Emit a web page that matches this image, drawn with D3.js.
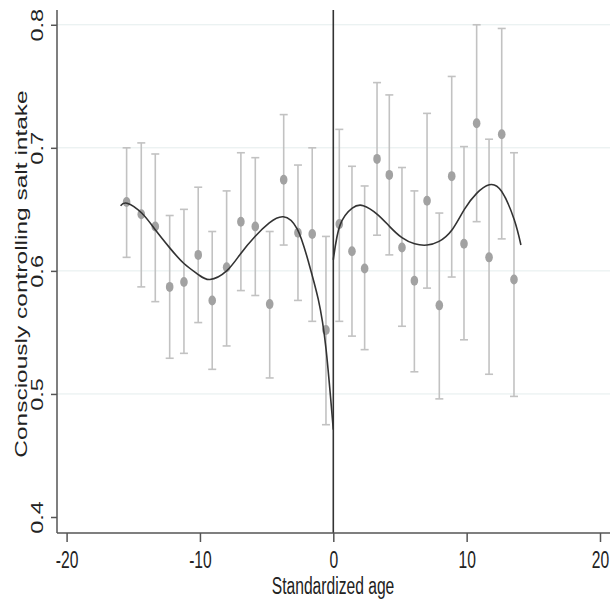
<!DOCTYPE html>
<html>
<head>
<meta charset="utf-8">
<script src="https://cdn.jsdelivr.net/npm/d3@7"></script>
<style>
  body { margin: 0; background: #fff; }
  text { font-family: "Liberation Sans", Arial, Helvetica, sans-serif; fill: #222; }
</style>
</head>
<body>
<svg width="615" height="602"></svg>
<script>
// binned means with 95% CI, left of cutoff
var leftAge = [-15.5, -14.4, -13.35, -12.27, -11.2, -10.13, -9.08, -8.0, -6.93, -5.85, -4.77, -3.72, -2.65, -1.58, -0.55]
var leftMean = [0.656, 0.646, 0.636, 0.587, 0.591, 0.613, 0.576, 0.603, 0.640, 0.636, 0.573, 0.674, 0.631, 0.630, 0.552]
var leftLo = [0.611, 0.587, 0.575, 0.529, 0.533, 0.558, 0.520, 0.539, 0.584, 0.580, 0.513, 0.621, 0.576, 0.559, 0.475]
var leftHi = [0.700, 0.704, 0.695, 0.645, 0.650, 0.668, 0.632, 0.665, 0.696, 0.692, 0.632, 0.727, 0.686, 0.700, 0.628]

// right of cutoff
var rightAge = [0.45, 1.4, 2.35, 3.28, 4.2, 5.15, 6.08, 7.03, 7.95, 8.88, 9.8, 10.75, 11.68, 12.63, 13.55]
var rightMean = [0.638, 0.616, 0.602, 0.691, 0.678, 0.619, 0.592, 0.657, 0.572, 0.677, 0.622, 0.720, 0.611, 0.711, 0.593]
var rightLo = [0.559, 0.547, 0.536, 0.629, 0.613, 0.555, 0.518, 0.586, 0.496, 0.595, 0.544, 0.640, 0.516, 0.626, 0.498]
var rightHi = [0.715, 0.685, 0.669, 0.753, 0.743, 0.684, 0.665, 0.728, 0.647, 0.758, 0.701, 0.800, 0.707, 0.797, 0.696]

// fitted curves
var fitLeftX = [-15.95, -15.47, -14.37, -13.32, -12.25, -11.2, -10.12, -9.25, -8.0, -6.95, -5.87, -4.8, -3.75, -2.7, -1.88, -1.13, -0.55, 0]
var fitLeftY = [0.653, 0.655, 0.647, 0.633, 0.6185, 0.606, 0.597, 0.593, 0.600, 0.614, 0.628, 0.639, 0.644, 0.634, 0.608, 0.577, 0.537, 0.471]
var fitRightX = [0, 0.5, 1.42, 2.25, 3.3, 4.23, 5.15, 6.1, 7.03, 7.93, 8.88, 9.83, 10.75, 11.7, 12.63, 13.57, 14.07]
var fitRightY = [0.609, 0.637, 0.651, 0.653, 0.646, 0.636, 0.627, 0.622, 0.621, 0.624, 0.633, 0.650, 0.663, 0.670, 0.6645, 0.6415, 0.621]

var xTicks = [-20, -10, 0, 10, 20]
var yTicks = [0.4, 0.5, 0.6, 0.7, 0.8]
var gridTicks = [0.5, 0.6, 0.7, 0.8]

var svg = d3.select("svg")
var sx = 0.68 // picture is squeezed horizontally

var x = d3.scaleLinear().domain([-20.72, 20.75]).range([57, 610])
var y = d3.scaleLinear().domain([0.387, 0.812]).range([533, 10])

// gridlines
svg.append("g").selectAll("line")
    .data(gridTicks)
    .enter()
    .append("line")
    .attr("x1", 57)
    .attr("x2", 610)
    .attr("y1", function(d) { return y(d) })
    .attr("y2", function(d) { return y(d) })
    .attr("stroke", "#e4eded")
    .attr("stroke-width", 1)

function bins(age, mean, lo, hi) {
    return age.map(function(a, i) {
        return {age: a, mean: mean[i], lo: lo[i], hi: hi[i]}
    })
}
var points = bins(leftAge, leftMean, leftLo, leftHi).concat(bins(rightAge, rightMean, rightLo, rightHi))

// error bars
var bars = svg.append("g").attr("stroke", "#c2c2c2").attr("stroke-width", 1.6)
bars.selectAll(".ci")
    .data(points)
    .enter()
    .append("line")
    .attr("x1", function(d) { return x(d.age) })
    .attr("x2", function(d) { return x(d.age) })
    .attr("y1", function(d) { return y(d.lo) })
    .attr("y2", function(d) { return y(d.hi) })
bars.selectAll(".capTop")
    .data(points)
    .enter()
    .append("line")
    .attr("x1", function(d) { return x(d.age) - 4 })
    .attr("x2", function(d) { return x(d.age) + 4 })
    .attr("y1", function(d) { return y(d.hi) })
    .attr("y2", function(d) { return y(d.hi) })
bars.selectAll(".capBot")
    .data(points)
    .enter()
    .append("line")
    .attr("x1", function(d) { return x(d.age) - 4 })
    .attr("x2", function(d) { return x(d.age) + 4 })
    .attr("y1", function(d) { return y(d.lo) })
    .attr("y2", function(d) { return y(d.lo) })

// means
svg.append("g").selectAll("ellipse")
    .data(points)
    .enter()
    .append("ellipse")
    .attr("cx", function(d) { return x(d.age) })
    .attr("cy", function(d) { return y(d.mean) })
    .attr("rx", 3.8)
    .attr("ry", 5)
    .attr("fill", "#a2a2a2")

// fitted lines
var line = d3.line()
    .x(function(d) { return x(d[0]) })
    .y(function(d) { return y(d[1]) })
    .curve(d3.curveNatural)

svg.append("path")
    .datum(d3.zip(fitLeftX, fitLeftY))
    .attr("d", line)
    .attr("fill", "none")
    .attr("stroke", "#333")
    .attr("stroke-width", 1.6)
svg.append("path")
    .datum(d3.zip(fitRightX, fitRightY))
    .attr("d", line)
    .attr("fill", "none")
    .attr("stroke", "#333")
    .attr("stroke-width", 1.6)

// cutoff line
svg.append("line")
    .attr("x1", x(0))
    .attr("x2", x(0))
    .attr("y1", 10)
    .attr("y2", 533)
    .attr("stroke", "#333")
    .attr("stroke-width", 1.6)

// axes
var xAxis = svg.append("g")
    .attr("transform", "translate(0,533)")
    .call(d3.axisBottom(x).tickValues(xTicks).tickSize(9).tickSizeOuter(0).tickFormat(function(d) { return String(d) }))
xAxis.selectAll("text")
    .attr("y", null)
    .attr("dy", null)
    .attr("transform", "translate(0,35) scale(" + sx + ",1)")
    .style("font-size", "23px")

var yAxis = svg.append("g")
    .attr("transform", "translate(57,0)")
    .call(d3.axisLeft(y).tickValues(yTicks).tickSize(6).tickSizeOuter(0).tickFormat(d3.format(".1f")))
yAxis.selectAll("text")
    .attr("x", null)
    .attr("dy", null)
    .attr("text-anchor", "middle")
    .attr("transform", "translate(-14,0) scale(" + sx + ",1) rotate(-90)")
    .style("font-size", "23.5px")

svg.selectAll(".domain, .tick line").attr("stroke", "#555").attr("stroke-width", 1.5)
// stretch the left axis to the top of the plot region
yAxis.select(".domain").attr("d", "M0,533V10")
xAxis.select(".domain").attr("d", "M57,0H610")

// titles
svg.append("text")
    .attr("text-anchor", "middle")
    .attr("transform", "translate(333,594) scale(" + sx + ",1)")
    .style("font-size", "23px")
    .text("Standardized age")

svg.append("text")
    .attr("text-anchor", "middle")
    .attr("transform", "translate(27,274) scale(" + sx + ",1) rotate(-90)")
    .style("font-size", "24.5px")
    .text("Consciously controlling salt intake")
</script>
</body>
</html>
